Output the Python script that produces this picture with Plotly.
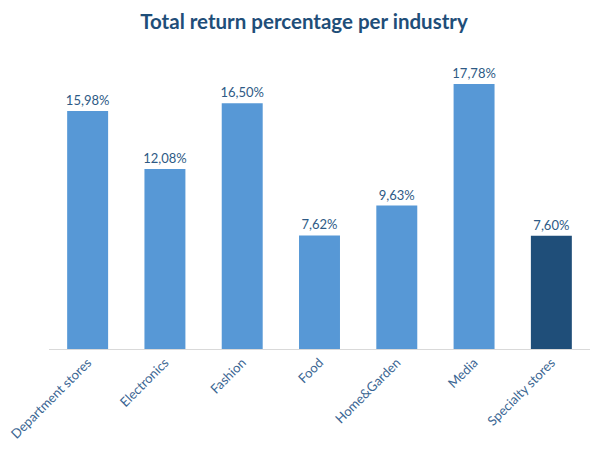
import plotly.graph_objects as go

# categories and values
industries = ['Department stores', 'Electronics', 'Fashion', 'Food',
              'Home&Garden', 'Media', 'Specialty stores']
returns = [15.98, 12.08, 16.50, 7.62, 9.63, 17.78, 7.60]
highlight = 'Specialty stores'

bar_colors = ['#1f4e79' if name == highlight else '#5798d6' for name in industries]

fig = go.Figure(go.Bar(x=industries,
                       y=returns,
                       marker=dict(color=bar_colors, line=dict(width=0)),
                       texttemplate='%{y:.2f}%',
                       textposition='outside',
                       constraintext='none',
                       textfont=dict(family='Lato', size=13, color='#2e5a85'),
                       cliponaxis=False,
                       hoverinfo='skip'))

# the page body adds an 8px offset, so the figure is 8px smaller than the window
fig.update_layout(title=dict(text='<b>Total return percentage per industry</b>',
                             x=0.5, xanchor='center', y=0.969, yanchor='middle',
                             font=dict(family='Lato', size=20.5, color='#1f4e79')),
                  separators=',.',
                  width=592, height=449,
                  paper_bgcolor='white', plot_bgcolor='white',
                  bargap=0.47,
                  showlegend=False,
                  margin=dict(l=41, r=10, t=43, b=108))

fig.update_xaxes(tickangle=-45, automargin=False,
                 tickfont=dict(family='Lato', size=13, color='#3a6592'),
                 showline=True, linecolor='#d9d9d9', linewidth=1,
                 ticks='', showgrid=False)
fig.update_yaxes(range=[0, 20], visible=False)

fig.write_html('out.html')
